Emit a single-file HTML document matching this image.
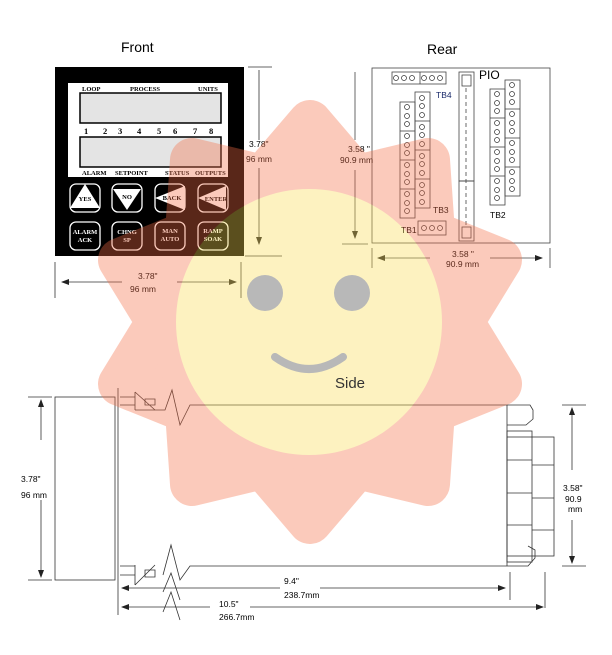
<!DOCTYPE html>
<html><head><meta charset="utf-8"><style>
body{margin:0;background:#fff;}
svg{display:block;font-family:"Liberation Sans",sans-serif;}
.s{font-family:"Liberation Serif",serif;font-weight:bold;}
</style></head><body>
<svg width="612" height="655" viewBox="0 0 612 655" xmlns="http://www.w3.org/2000/svg">
<defs>
<marker id="a" markerWidth="8" markerHeight="8" refX="7" refY="4" orient="auto" markerUnits="userSpaceOnUse"><path d="M0,1 L8,4 L0,7z" fill="#222"/></marker>
</defs>
<text x="121" y="52" font-size="14">Front</text>
<text x="427" y="54" font-size="14">Rear</text>
<!-- FRONT -->
<rect x="55" y="67" width="189" height="189" fill="#000"/>
<rect x="68" y="83" width="160" height="94" fill="#fff"/>
<rect x="80" y="93" width="141" height="30" fill="#e4e4e4" stroke="#000" stroke-width="1.5"/>
<rect x="80" y="137" width="141" height="30" fill="#e4e4e4" stroke="#000" stroke-width="1.5"/>
<g class="s" font-size="6.5" fill="#000">
<text x="82" y="91">LOOP</text><text x="130" y="91">PROCESS</text><text x="198" y="91">UNITS</text>
<text x="82" y="175">ALARM</text><text x="115" y="175">SETPOINT</text><text x="165" y="175">STATUS</text><text x="195" y="175">OUTPUTS</text>
</g>
<g class="s" font-size="8.5" fill="#000">
<text x="84" y="134">1</text><text x="103" y="134">2</text><text x="118" y="134">3</text><text x="137" y="134">4</text><text x="157" y="134">5</text><text x="173" y="134">6</text><text x="193" y="134">7</text><text x="209" y="134">8</text>
</g>
<g fill="none" stroke="#fff" stroke-width="1.3">
<rect x="70" y="184" width="30" height="28" rx="6"/><rect x="112" y="184" width="30" height="28" rx="6"/><rect x="155" y="184" width="30" height="28" rx="6"/><rect x="198" y="184" width="30" height="28" rx="6"/>
<rect x="70" y="222" width="30" height="28" rx="6"/><rect x="112" y="222" width="30" height="28" rx="6"/><rect x="155" y="222" width="30" height="28" rx="6"/><rect x="198" y="222" width="30" height="28" rx="6"/>
</g>
<path d="M85,184 L100,208 L70,208z" fill="#fff"/>
<path d="M113,189 L141,189 L127,210z" fill="#fff"/>
<path d="M155,198 L185,186 L185,210z" fill="#fff"/>
<path d="M198,198 L226,186 L226,210z" fill="#fff"/>
<g class="s" font-size="6.5" text-anchor="middle">
<text x="85" y="201" fill="#000">YES</text><text x="127" y="199" fill="#000">NO</text><text x="172" y="200" fill="#000">BACK</text><text x="216" y="201" fill="#000">ENTER</text>
<text x="85" y="234" fill="#fff">ALARM</text><text x="85" y="242" fill="#fff">ACK</text>
<text x="127" y="234" fill="#fff">CHNG</text><text x="127" y="242" fill="#fff">SP</text>
<text x="170" y="233" fill="#fff">MAN</text><text x="170" y="241" fill="#fff">AUTO</text>
<text x="213" y="233" fill="#fff">RAMP</text><text x="213" y="241" fill="#fff">SOAK</text>
</g>
<g stroke="#333" stroke-width="0.8" fill="none">
<line x1="248" y1="67" x2="272" y2="67"/><line x1="245" y1="256" x2="282" y2="256"/>
<line x1="259" y1="70" x2="259" y2="140" /><line x1="259" y1="168" x2="259" y2="244" marker-end="url(#a)"/>
<line x1="55" y1="262" x2="55" y2="298"/><line x1="241" y1="262" x2="241" y2="298"/>
<line x1="122" y1="282" x2="62" y2="282" marker-end="url(#a)"/><line x1="177" y1="282" x2="236" y2="282" marker-end="url(#a)"/>
</g>
<text x="249" y="147" font-size="8.5">3.78"</text><text x="246" y="162" font-size="8.5">96 mm</text>
<text x="138" y="279" font-size="8.5">3.78"</text><text x="130" y="292" font-size="8.5">96 mm</text>
<!-- REAR -->
<g stroke="#444" stroke-width="0.8" fill="none">
<rect x="372" y="68" width="178" height="175"/>
<line x1="355" y1="72" x2="355" y2="140"/><line x1="355" y1="170" x2="355" y2="238" marker-end="url(#a)"/>
<line x1="342" y1="244" x2="368" y2="244"/><line x1="372" y1="248" x2="372" y2="268"/><line x1="550" y1="248" x2="550" y2="268"/>
<line x1="430" y1="258" x2="378" y2="258" marker-end="url(#a)"/><line x1="490" y1="258" x2="542" y2="258" marker-end="url(#a)"/>
<rect x="392" y="72" width="54" height="12"/><line x1="420" y1="72" x2="420" y2="84"/>
<rect x="459" y="72" width="15" height="109"/><rect x="462" y="75" width="9" height="11"/><rect x="462" y="227" width="9" height="11"/>
<line x1="466" y1="88" x2="466" y2="225" stroke-dasharray="4,3"/>
<rect x="459" y="181" width="15" height="60"/>
<rect x="400" y="102" width="15" height="116"/><line x1="400" y1="131" x2="415" y2="131"/><line x1="400" y1="160" x2="415" y2="160"/><line x1="400" y1="189" x2="415" y2="189"/>
<rect x="415" y="92" width="15" height="116"/><line x1="415" y1="121" x2="430" y2="121"/><line x1="415" y1="150" x2="430" y2="150"/><line x1="415" y1="179" x2="430" y2="179"/>
<rect x="418" y="221" width="28" height="14"/>
<rect x="490" y="89" width="15" height="116"/><line x1="490" y1="118" x2="505" y2="118"/><line x1="490" y1="147" x2="505" y2="147"/><line x1="490" y1="176" x2="505" y2="176"/>
<rect x="505" y="80" width="15" height="116"/><line x1="505" y1="109" x2="520" y2="109"/><line x1="505" y1="138" x2="520" y2="138"/><line x1="505" y1="167" x2="520" y2="167"/>
</g>
<g fill="none" stroke="#333" stroke-width="0.7">
<circle cx="396" cy="78" r="2.5"/><circle cx="404" cy="78" r="2.5"/><circle cx="412" cy="78" r="2.5"/><circle cx="424" cy="78" r="2.5"/><circle cx="432" cy="78" r="2.5"/><circle cx="440" cy="78" r="2.5"/>
<circle cx="424" cy="228" r="2.5"/><circle cx="432" cy="228" r="2.5"/><circle cx="440" cy="228" r="2.5"/>
<circle cx="407" cy="107" r="2.5"/><circle cx="407" cy="116" r="2.5"/><circle cx="407" cy="124" r="2.5"/><circle cx="407" cy="136" r="2.5"/><circle cx="407" cy="145" r="2.5"/><circle cx="407" cy="153" r="2.5"/><circle cx="407" cy="165" r="2.5"/><circle cx="407" cy="174" r="2.5"/><circle cx="407" cy="182" r="2.5"/><circle cx="407" cy="194" r="2.5"/><circle cx="407" cy="203" r="2.5"/><circle cx="407" cy="211" r="2.5"/>
<circle cx="422" cy="98" r="2.5"/><circle cx="422" cy="106" r="2.5"/><circle cx="422" cy="115" r="2.5"/><circle cx="422" cy="127" r="2.5"/><circle cx="422" cy="135" r="2.5"/><circle cx="422" cy="144" r="2.5"/><circle cx="422" cy="156" r="2.5"/><circle cx="422" cy="164" r="2.5"/><circle cx="422" cy="173" r="2.5"/><circle cx="422" cy="185" r="2.5"/><circle cx="422" cy="193" r="2.5"/><circle cx="422" cy="202" r="2.5"/>
<circle cx="497" cy="94" r="2.5"/><circle cx="497" cy="103" r="2.5"/><circle cx="497" cy="111" r="2.5"/><circle cx="497" cy="123" r="2.5"/><circle cx="497" cy="132" r="2.5"/><circle cx="497" cy="140" r="2.5"/><circle cx="497" cy="152" r="2.5"/><circle cx="497" cy="161" r="2.5"/><circle cx="497" cy="169" r="2.5"/><circle cx="497" cy="181" r="2.5"/><circle cx="497" cy="190" r="2.5"/><circle cx="497" cy="198" r="2.5"/>
<circle cx="512" cy="85" r="2.5"/><circle cx="512" cy="94" r="2.5"/><circle cx="512" cy="102" r="2.5"/><circle cx="512" cy="114" r="2.5"/><circle cx="512" cy="123" r="2.5"/><circle cx="512" cy="131" r="2.5"/><circle cx="512" cy="143" r="2.5"/><circle cx="512" cy="152" r="2.5"/><circle cx="512" cy="160" r="2.5"/><circle cx="512" cy="172" r="2.5"/><circle cx="512" cy="181" r="2.5"/><circle cx="512" cy="189" r="2.5"/>
</g>
<text x="479" y="79" font-size="12">PIO</text>
<g font-size="8.5"><text x="436" y="98" fill="#1a2a6a">TB4</text><text x="433" y="213">TB3</text><text x="401" y="233">TB1</text><text x="490" y="218">TB2</text>
<text x="348" y="152">3.58 "</text><text x="340" y="163">90.9 mm</text>
<text x="452" y="257">3.58 "</text><text x="446" y="267">90.9 mm</text></g>
<!-- SIDE -->
<g stroke="#333" stroke-width="0.8" fill="none">
<line x1="28" y1="397" x2="52" y2="397"/><line x1="28" y1="580" x2="52" y2="580"/>
<line x1="41" y1="440" x2="41" y2="400" marker-end="url(#a)"/><line x1="41" y1="500" x2="41" y2="577" marker-end="url(#a)"/>
<rect x="55" y="397" width="60" height="183"/>
<line x1="118" y1="388" x2="118" y2="615"/>
<path d="M120,397 H135 V405 H120 M135,392 L155,410 M135,392 V410 M145,399 H155 V405 H145 Z"/>
<path d="M135,410 H165 L172,390 L180,425 L190,405 H507"/>
<path d="M120,566 H135 V575 H120 M135,585 L155,565 M135,565 V585 M145,570 H155 V577 H145 Z"/>
<path d="M163,575 L171,545 L180,580 L190,566 H507"/>
<path d="M163,592 L171,573 L180,600"/><path d="M163,612 L171,592 L180,620"/>
<path d="M507,405 H530 L533,410 V419 L526,425 H507"/>
<rect x="507" y="431" width="25" height="131"/><rect x="507" y="437" width="47" height="119"/>
<line x1="507" y1="460" x2="532" y2="460"/><line x1="507" y1="493" x2="532" y2="493"/><line x1="507" y1="525" x2="532" y2="525"/>
<line x1="532" y1="465" x2="554" y2="465"/><line x1="532" y1="498" x2="554" y2="498"/><line x1="532" y1="530" x2="554" y2="530"/>
<path d="M507,566 H528 L535,558 V550 L528,546"/>
<line x1="507" y1="405" x2="507" y2="566"/>
<line x1="562" y1="405" x2="586" y2="405"/><line x1="562" y1="566" x2="586" y2="566"/>
<line x1="572" y1="470" x2="572" y2="408" marker-end="url(#a)"/><line x1="572" y1="520" x2="572" y2="563" marker-end="url(#a)"/>
<line x1="510" y1="572" x2="510" y2="600"/><line x1="545" y1="572" x2="545" y2="608"/>
<line x1="280" y1="588" x2="122" y2="588" marker-end="url(#a)"/><line x1="320" y1="588" x2="505" y2="588" marker-end="url(#a)"/>
<line x1="210" y1="607" x2="122" y2="607" marker-end="url(#a)"/><line x1="250" y1="607" x2="543" y2="607" marker-end="url(#a)"/>
</g>
<g font-size="8.5"><text x="21" y="482">3.78"</text><text x="21" y="498">96 mm</text>
<text x="563" y="491">3.58"</text><text x="565" y="502">90.9</text><text x="568" y="512">mm</text>
<text x="284" y="584">9.4"</text><text x="284" y="598">238.7mm</text>
<text x="219" y="607">10.5"</text><text x="219" y="620">266.7mm</text></g>
<!-- SUN overlay -->
<g opacity="0.36">
<polygon points="310,122 357,177 428,160 433,233 500,260 462,322 500,384 433,411 428,484 357,467 310,522 263,467 192,484 187,411 120,384 158,322 120,260 187,233 192,160 263,177" fill="#f56e46" stroke="#f56e46" stroke-width="44" stroke-linejoin="round"/>
<circle cx="309" cy="322" r="133" fill="#fcdc54"/>
</g>
<circle cx="265" cy="293" r="18" fill="#b8b8b8"/><circle cx="352" cy="293" r="18" fill="#b8b8b8"/>
<path d="M275,357 Q309,381 343,357" stroke="#b8b8b8" stroke-width="8" stroke-linecap="round" fill="none"/>
<text x="335" y="388" font-size="15" fill="#333">Side</text>
</svg>
</body></html>
